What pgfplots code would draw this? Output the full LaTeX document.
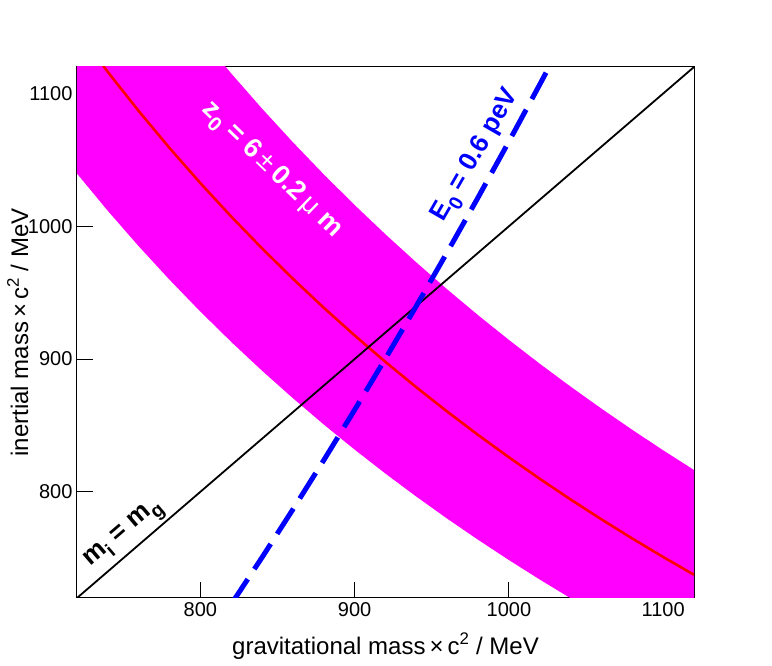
\documentclass[border=0pt]{standalone}
\usepackage{pgfplots}
\pgfplotsset{compat=1.18}
\usepackage{fontspec}
\setmainfont{Liberation Sans}
\definecolor{rmag}{RGB}{255,0,255}
\definecolor{rred}{RGB}{255,0,0}
\definecolor{rblue}{RGB}{0,0,255}
\newcommand{\lsub}[1]{\raisebox{-0.3em}{\scalebox{0.75}{#1}}}
\begin{document}
\begin{tikzpicture}
\path[use as bounding box] (-77pt,-68pt) rectangle (695pt,598pt);
\begin{axis}[
  at={(0,0)}, anchor=south west,
  scale only axis, width=617pt, height=531pt,
  xmin=720, xmax=1120, ymin=720, ymax=1120,
  xtick={800,900,1000,1100}, ytick={800,900,1000,1100},
  minor tick num=0,
  tick align=inside, tick pos=left,
  major tick length=16pt,
  axis line style={line width=1pt, black},
  every tick/.style={line width=1pt, black},
  /pgf/number format/assume math mode=true,
  /pgf/number format/1000 sep={},
  tick label style={font=\fontsize{20}{20}\selectfont},
  xticklabel style={yshift=-1pt},
  yticklabel style={xshift=-1pt},
  xlabel={gravitational mass\,×\,c\textsuperscript{2} / MeV},
  ylabel={inertial mass\,×\,c\textsuperscript{2} / MeV},
  xlabel style={font=\fontsize{24}{24}\selectfont, at={(axis description cs:0.5,-0.1055)}, anchor=base},
  ylabel style={font=\fontsize{24}{24}\selectfont, at={(axis description cs:-0.0794,0.5)}, anchor=base},
  clip=true,
]
% z0 band
\addplot[draw=none, fill=rmag] coordinates {
(720,1270.0) (740,1235.68) (760,1203.16) (780,1172.31) (800,1143.0) (820,1115.12)
(840,1088.57) (860,1063.26) (880,1039.09) (900,1016.0) (920,993.91) (940,972.77)
(960,952.5) (980,933.06) (1000,914.4) (1020,896.47) (1040,879.23) (1060,862.64)
(1080,846.67) (1100,831.27) (1120,816.43)
(1120,668.39) (1100,680.55) (1080,693.15) (1060,706.23) (1040,719.81) (1020,733.92)
(1000,748.6) (980,763.88) (960,779.79) (940,796.38) (920,813.70) (900,831.78)
(880,850.68) (860,870.47) (840,891.19) (820,912.93) (800,935.75) (780,959.74)
(760,985.0) (740,1011.62) (720,1039.72)
} -- cycle;
% central curve
\addplot[rred, line width=2.6pt] coordinates {
(720,1147.22) (740,1116.22) (760,1086.84) (780,1058.97) (800,1032.50) (820,1007.32)
(840,983.33) (860,960.47) (880,938.64) (900,917.78) (920,897.83) (940,878.72)
(960,860.42) (980,842.86) (1000,826.00) (1020,809.80) (1040,794.23) (1060,779.25)
(1080,764.81) (1100,750.91) (1120,737.50)
};
% m_i = m_g
\addplot[black, line width=1.8pt] coordinates {(720,720) (1120,1120)};
% E0 line
\addplot[rblue, line width=5pt, dash pattern=on 30pt off 12pt] coordinates {
(820,715.32) (840,750.64) (860,786.81) (880,823.83) (900,861.70) (920,900.43)
(940,940.00) (960,980.43) (980,1021.70) (1000,1063.83) (1020,1106.81) (1030,1128.62)
};
\node[rotate=40.6, font=\fontsize{26}{26}\selectfont\bfseries, black] at (axis cs:751,767)
  {m\lsub{i} = m\lsub{g}};
\node[rotate=-44, font=\fontsize{27}{27}\selectfont\bfseries, white] at (axis cs:846,1042)
  {z\lsub{0} = 6\,{\mdseries ±}\,0.2\,{\mdseries μ} m};
\node[rotate=60, font=\fontsize{26}{26}\selectfont\bfseries, rblue] at (axis cs:979,1053)
  {E\lsub{0} = 0.6 peV};
\end{axis}
\end{tikzpicture}
\end{document}
